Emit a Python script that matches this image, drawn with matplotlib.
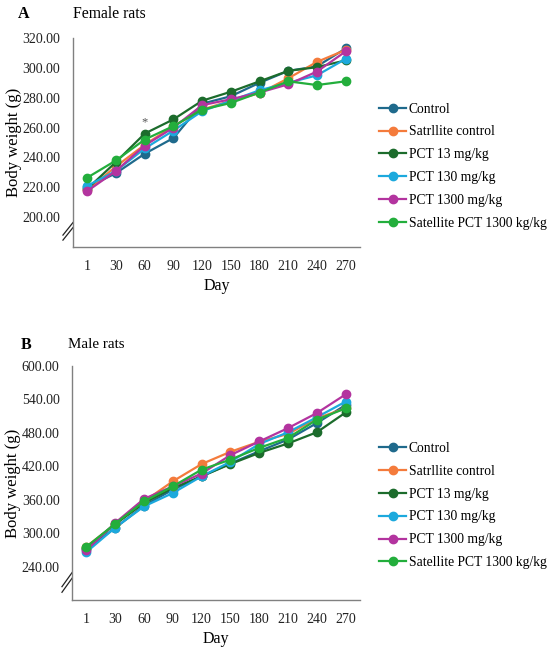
import matplotlib
matplotlib.use("Agg")
import matplotlib.pyplot as plt
from matplotlib.ticker import FormatStrFormatter

plt.rcParams["font.family"] = ["Liberation Serif", "DejaVu Serif"]

# x categories (days) shared by both panels
days = ["1", "30", "60", "90", "120", "150", "180", "210", "240", "270"]
groups = ["Control", "Satrllite control", "PCT 13 mg/kg", "PCT 130 mg/kg",
          "PCT 1300 mg/kg", "Satellite PCT 1300 kg/kg"]

# panel A - female rats, body weight (g)
female_control = [220, 229.5, 242.5, 253, 276, 281, 290, 298, 301, 313]
female_sat_control = [218, 234, 248.5, 261, 272, 278, 283, 293, 304, 312]
female_pct13 = [219, 237, 256, 265.5, 278, 284, 291, 298, 300.5, 305]
female_pct130 = [221, 231, 246, 258, 271, 278, 285, 290, 295, 306]
female_pct1300 = [217.5, 231, 248, 260, 275, 279, 283.5, 289, 297.5, 311]
female_sat_pct1300 = [226.5, 238, 252, 261, 272, 276.5, 283.5, 291, 288.5, 291]

# panel B - male rats, body weight (g)
male_control = [271, 309.5, 349.5, 378, 402, 425, 447, 468, 497.5, 530]
male_sat_control = [276, 316, 357, 393, 424, 446, 464, 478, 506, 524]
male_pct13 = [274, 316, 354, 381, 402, 424, 444, 461, 481, 516.5]
male_pct130 = [266, 310, 348, 372, 402, 428, 460, 481, 508, 536]
male_pct1300 = [269.5, 318.5, 361.5, 384, 407, 440, 464.5, 488.5, 515.5, 549]
male_sat_pct1300 = [275.5, 317, 357, 384, 414, 432, 453, 471, 503.5, 524]

colors = ["#1f6a8c", "#f47b3c", "#1c6c2c", "#1ca9dd", "#b3349f", "#23ae3c"]

female = [female_control, female_sat_control, female_pct13,
          female_pct130, female_pct1300, female_sat_pct1300]
male = [male_control, male_sat_control, male_pct13,
        male_pct130, male_pct1300, male_sat_pct1300]


def draw_panel(ax, series, ylim, yticks):
    x = list(range(len(days)))
    for name, vals, c in zip(groups, series, colors):
        ax.plot(x, vals, color=c, lw=1.6, marker="o", ms=6, label=name)
    ax.set_xlim(-0.5, len(days) - 0.5)
    ax.set_ylim(*ylim)
    ax.set_xticks(x)
    ax.set_xticklabels(days)
    ax.set_yticks(yticks)
    ax.yaxis.set_major_formatter(FormatStrFormatter("%.2f"))
    ax.tick_params(length=0, labelsize=10, colors="#222222")
    ax.tick_params(axis="y", pad=9)
    ax.tick_params(axis="x", pad=9)
    for s in ("top", "right"):
        ax.spines[s].set_visible(False)
    for s in ("left", "bottom"):
        ax.spines[s].set_color("#808080")
        ax.spines[s].set_linewidth(1.0)
    ax.set_xlabel("Day", fontsize=11.5, labelpad=4)
    ax.set_ylabel("Body weight (g)", fontsize=12)
    ax.yaxis.set_label_coords(-0.178, 0.5)
    # axis break marks on the y axis
    for dy in (-0.012, 0.012):
        ax.plot([-0.035, 0.0], [0.075 + dy - 0.03, 0.075 + dy + 0.03],
                transform=ax.transAxes, color="#222222", lw=0.9,
                clip_on=False)
    ax.legend(loc="center left", bbox_to_anchor=(0.689, 0.0),
              bbox_transform=fig.transFigure, frameon=False, fontsize=9.8,
              handlelength=2.0, handletextpad=0.2, labelspacing=0.72,
              borderpad=0, borderaxespad=0)


fig = plt.figure(figsize=(5.5, 6.49), dpi=100)

ax_a = fig.add_axes([0.1327, 0.6194, 0.5218, 0.322])
draw_panel(ax_a, female, (180, 320), list(range(200, 321, 20)))
ax_a.get_legend().set_bbox_to_anchor((0.689, 0.744), transform=fig.transFigure)
ax_a.text(float(2), 263.5, "*", ha="center", va="center", fontsize=9,
          color="#555555")

ax_b = fig.add_axes([0.131, 0.0755, 0.5236, 0.3606])
draw_panel(ax_b, male, (180, 600), list(range(240, 601, 60)))
ax_b.get_legend().set_bbox_to_anchor((0.689, 0.221), transform=fig.transFigure)

fig.text(18 / 550, 1 - 14 / 649, "A", fontsize=11.5, fontweight="bold",
         va="center", ha="left")
fig.text(73 / 550, 1 - 14 / 649, "Female rats", fontsize=11.3,
         va="center", ha="left")
fig.text(21 / 550, 1 - 345 / 649, "B", fontsize=11.5, fontweight="bold",
         va="center", ha="left")
fig.text(68 / 550, 1 - 345 / 649, "Male rats", fontsize=10.8,
         va="center", ha="left")

fig.savefig("out.png", dpi=100)
